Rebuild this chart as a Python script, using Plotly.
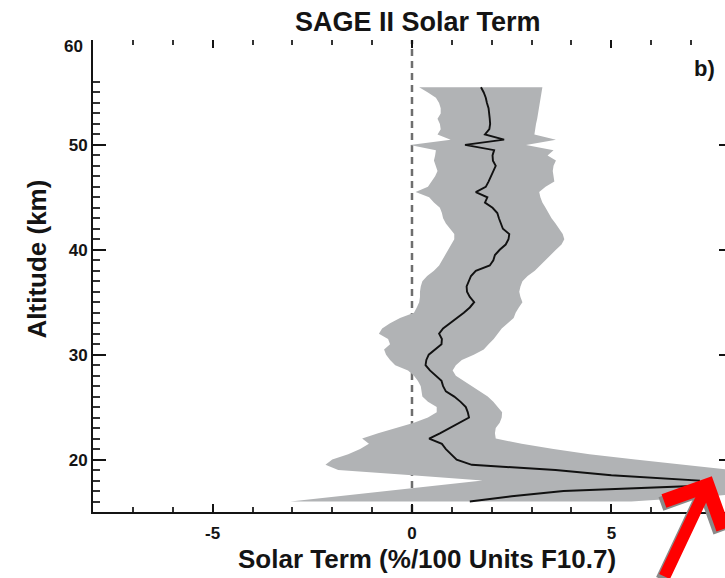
import plotly.graph_objects as go

# Altitude grid (km)
altitude = [16.0, 16.5, 17.0, 17.5, 18.0, 18.5, 19.0, 19.5, 20.0, 20.5,
            21.0, 21.5, 22.0, 22.5, 23.0, 23.5, 24.0, 24.5, 25.0, 25.5,
            26.0, 26.5, 27.0, 27.5, 28.0, 28.5, 29.0, 29.5, 30.0, 30.5,
            31.0, 31.5, 32.0, 32.5, 33.0, 33.5, 34.0, 34.5, 35.0, 35.5,
            36.0, 36.5, 37.0, 37.5, 38.0, 38.5, 39.0, 39.5, 40.0, 40.5,
            41.0, 41.5, 42.0, 42.5, 43.0, 43.5, 44.0, 44.5, 45.0, 45.5,
            46.0, 46.5, 47.0, 47.5, 48.0, 48.5, 49.0, 49.5, 50.0, 50.5,
            51.0, 51.5, 52.0, 52.5, 53.0, 53.5, 54.0, 54.5, 55.0, 55.5]

# Solar term (mean)
solar_term = [1.45, 2.50, 3.80, 7.20, 7.20, 5.00, 3.60, 1.50, 1.12, 0.98,
              0.85, 0.75, 0.43, 0.70, 0.95, 1.20, 1.43, 1.40, 1.35, 1.22,
              1.06, 0.85, 0.78, 0.74, 0.60, 0.45, 0.34, 0.36, 0.42, 0.58,
              0.74, 0.75, 0.68, 0.78, 0.95, 1.15, 1.30, 1.45, 1.56, 1.45,
              1.38, 1.37, 1.42, 1.48, 1.60, 1.95, 2.04, 2.08, 2.20, 2.35,
              2.42, 2.44, 2.28, 2.22, 2.18, 2.14, 2.02, 1.83, 1.89, 1.60,
              1.85, 1.92, 1.98, 2.05, 2.10, 2.03, 2.02, 2.06, 1.33, 2.31,
              1.83, 1.94, 1.96, 1.95, 1.93, 1.92, 1.88, 1.85, 1.80, 1.73]

# Uncertainty band, lower and upper bounds
band_lower = [-3.05, -1.85, -0.60, 0.60, 1.77, 0.00, -1.85, -2.17, -2.00, -1.60,
              -1.30, -1.08, -1.25, -0.85, -0.40, 0.05, 0.40, 0.62, 0.62, 0.40,
              0.26, 0.24, 0.22, 0.15, 0.05, -0.10, -0.42, -0.55, -0.65, -0.70,
              -0.55, -0.60, -0.83, -0.75, -0.55, -0.30, 0.05, 0.12, 0.18, 0.20,
              0.20, 0.22, 0.26, 0.38, 0.55, 0.68, 0.76, 0.82, 0.90, 1.00,
              1.06, 1.06, 0.95, 0.85, 0.78, 0.75, 0.70, 0.55, 0.43, 0.09,
              0.40, 0.50, 0.58, 0.64, 0.60, 0.55, 0.58, 0.60, -0.05, 0.97,
              0.64, 0.72, 0.70, 0.64, 0.72, 0.72, 0.68, 0.60, 0.40, 0.18]

band_upper = [5.50, 7.50, 9.00, 10.0, 10.0, 9.30, 8.00, 6.90, 5.60, 4.45,
              3.55, 2.75, 2.10, 2.08, 2.10, 2.20, 2.25, 2.26, 2.15, 2.04,
              1.90, 1.72, 1.50, 1.30, 1.10, 1.02, 1.10, 1.25, 1.55, 1.80,
              1.92, 2.05, 2.15, 2.25, 2.40, 2.55, 2.60, 2.68, 2.77, 2.72,
              2.69, 2.72, 2.77, 2.90, 3.08, 3.22, 3.35, 3.48, 3.61, 3.75,
              3.82, 3.78, 3.70, 3.60, 3.50, 3.42, 3.35, 3.27, 3.22, 3.19,
              3.35, 3.57, 3.55, 3.53, 3.55, 3.61, 3.40, 3.55, 2.86, 3.61,
              3.07, 3.09, 3.11, 3.14, 3.17, 3.19, 3.21, 3.23, 3.25, 3.27]

x_major = [-5, 0, 5]
x_minor = [-7, -6, -4, -3, -2, -1, 1, 2, 3, 4, 6, 7]
y_major = [20, 30, 40, 50]
y_minor = [15, 16, 17, 18, 19, 21, 22, 23, 24, 25, 26, 27, 28, 29,
           31, 32, 33, 34, 35, 36, 37, 38, 39, 41, 42, 43, 44, 45, 46, 47, 48, 49,
           51, 52, 53, 54, 55, 56]

X_RANGE = [-8, 7.85]
Y_RANGE = [15, 60]
FONT = "Liberation Sans, Arial, sans-serif"
INK = "#141414"

fig = go.Figure()

# gray band
fig.add_trace(go.Scatter(
    x=band_lower + band_upper[::-1],
    y=altitude + altitude[::-1],
    fill="toself", fillcolor="#b1b3b5",
    line=dict(width=0, color="#b1b3b5"),
    mode="lines", hoverinfo="skip", showlegend=False))

# mean line
fig.add_trace(go.Scatter(
    x=solar_term, y=altitude, mode="lines",
    line=dict(color="#111111", width=1.9),
    showlegend=False))

# dummy trace for mirrored tick axes
fig.add_trace(go.Scatter(x=[0], y=[30], xaxis="x2", yaxis="y2", mode="markers",
                         marker=dict(opacity=0), hoverinfo="skip", showlegend=False))

# dashed zero line
fig.add_shape(type="line", x0=0, x1=0, y0=Y_RANGE[0], y1=Y_RANGE[1],
              xref="x", yref="y", layer="below",
              line=dict(color="#6e6e6e", width=2.5, dash="7px,5px"))

fig.update_layout(
    width=725, height=578,
    margin=dict(l=93, r=0, t=40, b=66),
    paper_bgcolor="white", plot_bgcolor="white",
    font=dict(family=FONT, color=INK),
    xaxis=dict(range=X_RANGE, showgrid=False, zeroline=False,
               showline=True, linecolor=INK, linewidth=2,
               ticks="inside", tickmode="array", tickvals=x_major, ticktext=["-5", "0", "5"],
               ticklen=8, tickwidth=2, tickcolor=INK,
               minor=dict(tickmode="array", tickvals=x_minor, ticks="inside",
                          ticklen=5, tickwidth=2, tickcolor="#333333", showgrid=False),
               tickfont=dict(size=17, weight="bold", color=INK, family=FONT),
               ticklabelstandoff=5),
    yaxis=dict(range=Y_RANGE, showgrid=False, zeroline=False,
               showline=True, linecolor=INK, linewidth=2,
               ticks="inside", tickmode="array", tickvals=y_major,
               ticklen=13, tickwidth=2, tickcolor=INK,
               minor=dict(tickmode="array", tickvals=y_minor, ticks="inside",
                          ticklen=7, tickwidth=2, tickcolor="#333333", showgrid=False),
               tickfont=dict(size=17, weight="bold", color=INK, family=FONT),
               ticklabelstandoff=0),
    xaxis2=dict(range=X_RANGE, overlaying="x", side="top", anchor="y",
                showgrid=False, zeroline=False, showline=False,
                ticks="inside", tickmode="array", tickvals=x_major,
                ticklen=8, tickwidth=2, tickcolor=INK, showticklabels=False,
                minor=dict(tickmode="array", tickvals=x_minor, ticks="inside",
                           ticklen=5, tickwidth=2, tickcolor="#333333", showgrid=False)),
    yaxis2=dict(range=Y_RANGE, overlaying="y", side="right", anchor="x",
                showgrid=False, zeroline=False, showline=False,
                ticks="inside", tickmode="array", tickvals=y_major,
                ticklen=6, tickwidth=2, tickcolor=INK, showticklabels=False),
    showlegend=False,
)

# Texts
fig.add_annotation(text="SAGE II Solar Term", xref="paper", yref="paper",
                   x=0.514, y=1.038, xanchor="center", yanchor="middle", showarrow=False,
                   font=dict(size=27, weight="bold", color=INK, family=FONT))
fig.add_annotation(text="Solar Term (%/100 Units F10.7)", xref="paper", yref="paper",
                   x=0.528, y=-0.099, xanchor="center", yanchor="middle", showarrow=False,
                   font=dict(size=26, weight="bold", color=INK, family=FONT))
fig.add_annotation(text="Altitude (km)", xref="paper", yref="paper", textangle=-90,
                   x=-0.0886, y=0.535, xanchor="center", yanchor="middle", showarrow=False,
                   font=dict(size=26, weight="bold", color=INK, family=FONT))
fig.add_annotation(text="60", xref="paper", yref="paper",
                   x=-0.0127, y=0.986, xanchor="right", yanchor="middle", showarrow=False,
                   font=dict(size=17, weight="bold", color=INK, family=FONT))
fig.add_annotation(text="b)", xref="paper", yref="paper",
                   x=0.968, y=0.9386, xanchor="center", yanchor="middle", showarrow=False,
                   font=dict(size=22, weight="bold", color=INK, family=FONT))

# red arrow with shadow
for col, xs, ys in [("#8a8a8a", -3, -3), ("#ff0000", 0, 0)]:
    fig.add_annotation(text="", x=7.52, y=18.4, xref="x", yref="y",
                       ax=-48, ay=125, axref="pixel", ayref="pixel",
                       showarrow=True, arrowhead=4, arrowsize=1.05, arrowwidth=12,
                       arrowcolor=col, standoff=0, xshift=xs, yshift=ys)

fig.write_html("out.html")
